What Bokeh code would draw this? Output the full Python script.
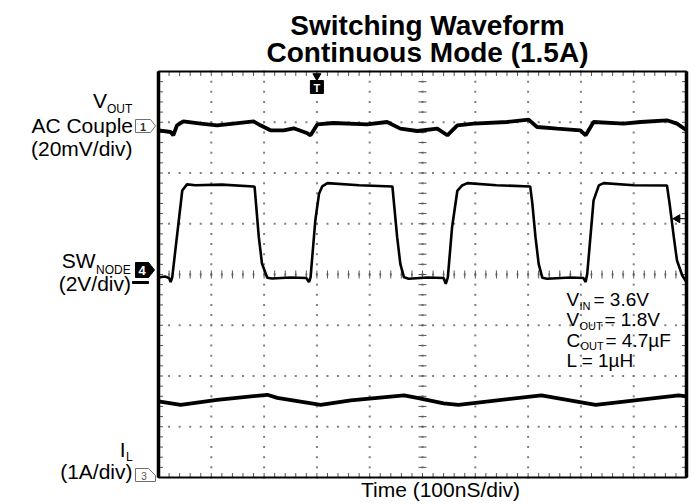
import numpy as np
from bokeh.plotting import figure
from bokeh.models import Range1d, Label
from bokeh.embed import file_html
from bokeh.resources import INLINE

# ---------------- data ----------------
# Channel 4: switch node voltage (V) vs time (ns)
sw_t_ns = [0, 12, 20, 23, 26, 45, 54, 70, 120, 180, 182, 190, 196, 206, 215,
           250, 280, 285, 288, 297, 304, 310, 320, 380, 443, 446, 452, 458, 465, 474,
           510, 540, 544, 548, 556, 566, 575, 585, 640, 704, 708, 714, 720, 727, 736,
           780, 805, 809, 812, 818, 824, 834, 843, 900, 963, 968, 976, 982, 992, 998, 1000]
sw_v = [-0.12, -0.08, -0.14, -0.30, -0.11, 3.31, 3.55, 3.52, 3.54, 3.47, 3.45, 1.47, 0.43, -0.13, -0.16,
        -0.12, -0.14, -0.30, -0.11, 2.13, 3.18, 3.47, 3.60, 3.52, 3.47, 2.80, 1.47, 0.42, -0.11, -0.17,
        -0.12, -0.14, -0.37, -0.11, 1.86, 3.30, 3.51, 3.60, 3.52, 3.47, 2.80, 1.47, 0.42, -0.13, -0.17,
        -0.12, -0.14, -0.30, 0.03, 1.47, 2.92, 3.51, 3.60, 3.52, 3.51, 2.79, 1.47, 0.55, -0.04, -0.24, -0.24]

# Channel 1: output voltage ripple, AC coupled (mV)
vout_t_ns = [0, 23, 28, 35, 47, 80, 111, 142, 180, 193, 212, 237, 256, 282, 288, 301, 331, 395,
             433, 458, 490, 528, 547, 566, 597, 660, 701, 717, 755, 799, 809, 824, 881, 913, 963, 982, 1000]
vout_mv = [-1.97, -2.64, -3.94, 0.0, 1.58, 0.67, 0.0, 0.67, 1.58, 0.0, -1.97, -1.97, -1.18, -3.15, -3.94,
           0.39, 0.91, 0.39, 1.3, -1.3, -2.25, -1.3, -3.94, 0.0, 0.67, 1.3, 2.25, -0.67, -1.3, -1.97,
           -3.94, 1.3, 0.67, 1.3, 1.97, 0.67, -1.97]

# Channel 3: inductor current (A)
il_t_ns = [0, 42, 111, 206, 225, 307, 364, 465, 490, 540, 568, 725, 828, 985, 1000]
il_a = [1.50, 1.43, 1.53, 1.63, 1.57, 1.43, 1.52, 1.62, 1.57, 1.46, 1.43, 1.62, 1.43, 1.62, 1.60]

# scope settings
NS_PER_DIV = 100
N_XDIV, N_YDIV = 10, 8
CH1_MV_PER_DIV, CH1_GND_DIV = 20, 6.94
CH4_V_PER_DIV, CH4_GND_DIV = 2, 4.0
CH3_A_PER_DIV, CH3_GND_DIV = 1, 0.0
TRIG_T_NS = 300
TRIG_LEVEL_V = 2.2

# ---------------- layout ----------------
W, H = 696, 504
GL, GT, GR, GB = 158, 71, 686, 477   # graticule box in canvas px
XMAX = N_XDIV * NS_PER_DIV

def X(px):   # canvas px -> ns
    return (px - GL) * XMAX / (GR - GL)

def Y(py):   # canvas px -> divisions
    return (GB - py) * N_YDIV / (GB - GT)

PXX = XMAX / (GR - GL)       # ns per pixel
PXY = N_YDIV / (GB - GT)     # div per pixel

p = figure(width=W, height=H, output_backend="svg", toolbar_location=None,
           x_range=Range1d(X(0), X(W)), y_range=Range1d(Y(H), Y(0)),
           x_axis_location=None, y_axis_location=None,
           min_border=0, min_border_left=0, min_border_right=0, min_border_top=0, min_border_bottom=0,
           background_fill_color="white", border_fill_color="white", outline_line_color=None)
p.grid.visible = False

def ch_range(gnd, per_div):
    return Range1d((Y(H) - gnd) * per_div, (Y(0) - gnd) * per_div)

p.extra_y_ranges = {
    "ch1": ch_range(CH1_GND_DIV, CH1_MV_PER_DIV),
    "ch4": ch_range(CH4_GND_DIV, CH4_V_PER_DIV),
    "ch3": ch_range(CH3_GND_DIV, CH3_A_PER_DIV),
}

# dotted graticule: dots every 1/5 division along every division line
xm = np.arange(0, XMAX + 1, NS_PER_DIV / 5)
ym = np.arange(0, N_YDIV + 0.001, 0.2)
dot_col = "#808080"
gx, gy = [], []
for i in range(1, N_XDIV):
    gx += [i * NS_PER_DIV] * len(ym)
    gy += list(ym)
for j in range(1, N_YDIV):
    gx += list(xm)
    gy += [j] * len(xm)
p.scatter(gx, gy, marker="square", size=2, fill_color=dot_col, line_color=None)

# minor ticks (1/5 division) on borders and centre lines
tick_col = "#555555"
L_IN = 4.5
p.segment(xm, np.full(len(xm), N_YDIV), xm, np.full(len(xm), N_YDIV - L_IN * PXY),
          line_color=tick_col, line_width=1)
p.segment(xm, np.zeros(len(xm)), xm, np.full(len(xm), L_IN * PXY), line_color=tick_col, line_width=1)
p.segment(np.zeros(len(ym)), ym, np.full(len(ym), L_IN * PXX), ym, line_color=tick_col, line_width=1)
p.segment(np.full(len(ym), XMAX), ym, np.full(len(ym), XMAX - L_IN * PXX), ym,
          line_color=tick_col, line_width=1)
p.segment(xm, np.full(len(xm), N_YDIV / 2 - 4 * PXY), xm, np.full(len(xm), N_YDIV / 2 + 4 * PXY),
          line_color=tick_col, line_width=1)
p.segment(np.full(len(ym), XMAX / 2 - 4 * PXX), ym, np.full(len(ym), XMAX / 2 + 4 * PXX), ym,
          line_color=tick_col, line_width=1)

# graticule border
p.quad(left=[0], right=[XMAX], bottom=[0], top=[N_YDIV], fill_color=None,
       line_color="black", line_width=2)
p.segment([0, XMAX], [0, 0], [0, XMAX], [N_YDIV, N_YDIV], line_color="black", line_width=3.5)

# traces
p.line(vout_t_ns, vout_mv, y_range_name="ch1", line_color="black", line_width=3.8)
p.line(sw_t_ns, sw_v, y_range_name="ch4", line_color="black", line_width=2.6)
p.line(il_t_ns, il_a, y_range_name="ch3", line_color="black", line_width=3.8)

FONT = "Liberation Sans"

# trigger markers
p.scatter([TRIG_T_NS], [Y(86.5)], marker="square", size=13, fill_color="black", line_color="black")
p.scatter([TRIG_T_NS], [Y(75.5)], marker="inverted_triangle", size=8, fill_color="black", line_color="black")
p.add_layout(Label(x=TRIG_T_NS, y=Y(87), text="T", text_align="center", text_baseline="middle",
                   text_font=FONT, text_font_style="bold", text_font_size="11px",
                   text_color="white"))
p.scatter([X(677)], [TRIG_LEVEL_V], y_range_name="ch4", marker="triangle", angle=np.pi / 2, size=8,
          fill_color="black", line_color="black")
p.segment([X(678)], [TRIG_LEVEL_V], [X(685)], [TRIG_LEVEL_V], y_range_name="ch4",
          line_color="black", line_width=1)

def lab(px, py, text, size, align="left", bold=False, color="black"):
    # py is the wanted visual baseline; Bokeh's alphabetic baseline renders ~0.3em lower
    p.add_layout(Label(x=X(px), y=Y(py - 0.3 * size), text=text, text_align=align,
                       text_baseline="alphabetic",
                       text_font=FONT, text_font_size=f"{size}px",
                       text_font_style="bold" if bold else "normal", text_color=color))

# title
lab(427, 33, "Switching Waveform", 28, "center", True)
lab(427, 60, "Continuous Mode (1.5A)", 28, "center", True)

# channel labels (left)
lab(106.5, 106.7, "V", 21, "right")
lab(106.5, 112, "OUT", 12)
lab(132.5, 131.7, "AC Couple", 21, "right")
lab(132, 154, "(20mV/div)", 21, "right")
lab(95, 266.7, "SW", 21, "right")
lab(95.5, 273, "NODE", 12)
lab(130.5, 289, "(2V/div)", 21, "right")
lab(125, 455, "I", 21, "right")
lab(125.5, 460, "L", 12)
lab(132, 477, "(1A/div)", 21, "right")

# conditions (right)
lab(566, 305, "V", 19)
lab(579, 308.5, "IN", 11)
lab(593, 305, "= 3.6V", 19)
lab(566, 325, "V", 19)
lab(579, 328.5, "OUT", 11)
lab(604, 325, "= 1.8V", 19)
lab(566, 345.5, "C", 19)
lab(580, 349, "OUT", 11)
lab(605, 345.5, "= 4.7µF", 19)
lab(566, 366, "L = 1µH", 19)

# time axis label
lab(440, 495, "Time (100nS/div)", 21, "center")

# channel ground markers
def poly(pts, fill, line):
    p.patch([X(a) for a, b in pts], [Y(b) for a, b in pts], fill_color=fill, line_color=line, line_width=1)

poly([(135, 119), (150, 119), (155, 125.5), (150, 132), (135, 132)], "white", "#707070")
p.add_layout(Label(x=X(142.5), y=Y(126), text="1", text_align="center", text_baseline="middle",
                   text_font=FONT, text_font_style="bold", text_font_size="11px", text_color="#333333"))
poly([(135, 262), (148, 262), (154, 269.5), (148, 277), (135, 277)], "black", "black")
p.add_layout(Label(x=X(141.5), y=Y(270), text="4", text_align="center", text_baseline="middle",
                   text_font=FONT, text_font_style="bold", text_font_size="13px", text_color="white"))
poly([(132, 281), (148, 281), (148, 283), (132, 283)], "black", "black")
poly([(135, 468), (148, 468), (155, 475), (155, 481), (135, 481)], "white", "#707070")
p.add_layout(Label(x=X(143.5), y=Y(475.5), text="3", text_align="center", text_baseline="middle",
                   text_font=FONT, text_font_size="10px", text_color="#555555"))

open("out.html", "w").write(file_html(p, INLINE))
